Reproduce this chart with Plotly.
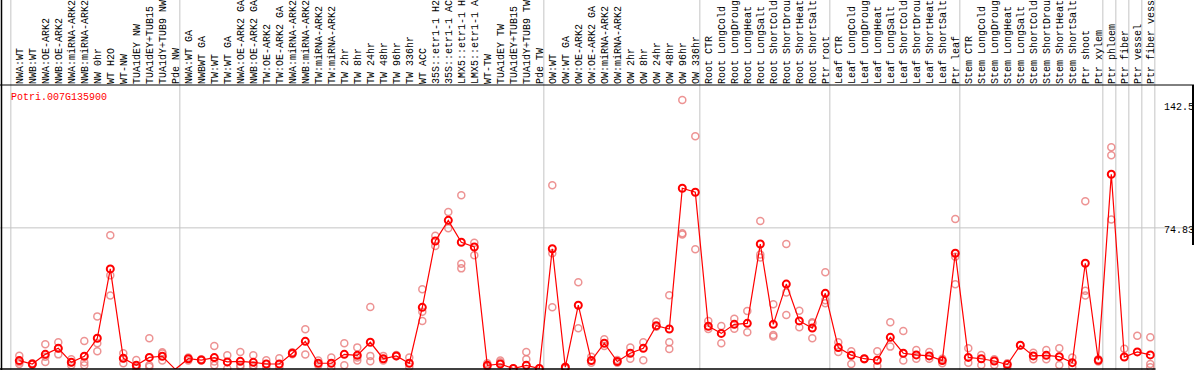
import plotly.graph_objects as go

gene_id = "Potri.007G135900"

samples = [
    "NWA:WT", "NWB:WT", "NWA:OE-ARK2", "NWB:OE-ARK2", "NWA:miRNA-ARK2", "NWB:miRNA-ARK2",
    "NW 0hr", "WT H2O", "WT-NW", "TUA1dEY NW", "TUA1dEY+TUB15 NW", "TUA1dY+TUB9 NW", "Pde NW",
    "NWA:WT GA", "NWBWT GA", "TW:WT", "TW:WT GA", "NWA:OE-ARK2 GA", "NWB:OE-ARK2 GA",
    "TW:OE-ARK2", "TW:OE-ARK2 GA", "NWA:miRNA-ARK2 GA", "NWB:miRNA-ARK2 GA", "TW:miRNA-ARK2",
    "TW:miRNA-ARK2 GA", "TW 2hr", "TW 8hr", "TW 24hr", "TW 48hr", "TW 96hr", "TW 336hr", "WT ACC",
    "35S::etr1-1 H2O", "35S::etr1-1 ACC", "LMX5::etr1-1 H2O", "LMX5::etr1-1 ACC", "WT-TW",
    "TUA1dEY TW", "TUA1dEY+TUB15 TW", "TUA1dY+TUB9 TW", "Pde TW",
    "OW:WT", "OW:WT GA", "OW:OE-ARK2", "OW:OE-ARK2 GA", "OW:miRNA-ARK2", "OW:miRNA-ARK2 GA",
    "OW 2hr", "OW 8hr", "OW 24hr", "OW 48hr", "OW 96hr", "OW 336hr",
    "Root CTR", "Root LongCold", "Root LongDrought", "Root LongHeat", "Root LongSalt",
    "Root ShortCold", "Root ShortDrought", "Root ShortHeat", "Root ShortSalt", "Ptr root",
    "Leaf CTR", "Leaf LongCold", "Leaf LongDrought", "Leaf LongHeat", "Leaf LongSalt",
    "Leaf ShortCold", "Leaf ShortDrought", "Leaf ShortHeat", "Leaf ShortSalt", "Ptr leaf",
    "Stem CTR", "Stem LongCold", "Stem LongDrought", "Stem LongHeat", "Stem LongSalt",
    "Stem ShortCold", "Stem ShortDrought", "Stem ShortHeat", "Stem ShortSalt",
    "Ptr shoot", "Ptr xylem", "Ptr phloem", "Ptr fiber", "Ptr vessel", "Ptr fiber vessel",
]

means = [
    4.6, 2.8, 7.9, 11.1, 3.7, 6.9, 16.4, 53.1, 5.8, 2.1, 6.3, 6.9, 0.0,
    5.6, 4.9, 6.2, 3.9, 4.2, 3.7, 2.8, 2.8, 8.5, 14.8, 3.2, 3.2, 7.9, 7.4, 14.3, 5.6, 7.1,
    3.2, 32.8, 67.9, 78.8, 67.2, 64.7, 2.1, 2.8, 0.4, 2.1, 0.4,
    63.8, 1.1, 33.9, 4.6, 13.8, 4.1, 8.5, 11.1, 23.1, 21.3, 95.8, 93.7,
    22.8, 19.0, 23.8, 24.3, 66.3, 23.8, 45.1, 25.6, 21.8, 40.2,
    11.5, 7.4, 5.6, 4.8, 16.9, 8.5, 7.6, 7.1, 4.6, 61.4,
    6.3, 5.6, 4.4, 2.5, 12.7, 7.1, 7.4, 6.7, 3.5, 56.1, 4.8, 103.2, 6.5, 9.2, 7.6,
]

replicates = [
    [7.2, 3.8, 2.8], [3.2, 2.5, 2.6], [13.2, 3.9, 6.6], [14.3, 7.9, 11.1], [5.3, 3.7, 2.2],
    [15.0, 3.7, 2.1], [28.0, 13.8, 9.5], [70.9, 49.7, 39.0], [8.5, 3.2, 5.8], [4.9, 0.4, 1.0],
    [16.4, 2.1, 1.4], [9.0, 8.4, 4.6], [0.0, 0.0, 0.0],
    [5.6, 4.6, 6.2], [5.3, 4.6], [12.3, 4.1, 2.1], [7.4, 0.4, 3.7], [9.2, 2.1, 1.4],
    [7.4, 1.4, 2.1], [4.8, 1.1], [5.8, 1.1], [9.0, 8.0], [21.2, 7.8], [4.6, 2.1], [6.3, 1.1],
    [13.8, 2.1], [11.6, 4.6, 6.2], [33.0, 7.1, 4.2], [7.1, 4.6], [7.6, 6.9], [6.2, 1.4],
    [42.3, 30.5, 25.6], [70.7, 65.3], [83.2, 74.6], [92.1, 55.9, 53.4], [67.0, 60.3],
    [3.2, 1.4], [4.6, 3.7], [0.4, 0.0], [9.2, 5.3], [0.4],
    [97.4, 61.4, 32.8], [1.4, 0.4], [46.0, 21.7], [6.7, 3.5], [15.9, 12.3], [4.9, 3.5],
    [11.5, 5.6], [14.3, 4.8], [25.2, 22.5], [39.2, 14.3, 10.8], [142.5, 72.0, 71.3],
    [123.3, 63.5],
    [25.6, 21.3], [22.9, 13.8], [26.8, 21.5], [30.9, 19.6], [78.5, 60.8, 59.1],
    [34.4, 18.2, 17.3], [66.3, 40.7, 28.7], [31.0, 22.2], [24.9, 16.4, 24.3], [51.3, 34.9, 36.6],
    [14.3, 9.2], [9.5, 2.8], [5.6, 5.3], [9.5, 1.8], [24.9, 12.0], [20.3, 4.6, 0.0],
    [10.2, 5.6], [9.2, 5.6], [5.6, 3.2], [79.5, 59.6, 45.0],
    [11.1, 3.5], [7.6, 2.3], [5.3, 2.3], [3.2, 1.1], [12.7], [8.8, 5.3], [10.2, 5.3],
    [11.1, 2.3], [6.3, 1.4], [88.9, 41.6, 39.0], [5.3, 4.1], [117.5, 113.2, 79.2],
    [10.9, 0.0], [17.8, 0.0], [16.9, 2.8, 1.1],
]

# first sample index of each tissue / experiment group (group separators)
group_starts = [0, 13, 41, 53, 63, 73, 84, 85, 86, 87, 88]

axis_labels = ["142.5", "74.83", "0"]
axis_values = [142.5, 74.83, 0]
reference_line = 74.83

W, H = 1194, 370
TOP, BOT = 85, 1
plot_h = H - TOP - BOT

xi = list(range(len(samples)))
rx, ry = [], []
for i, reps in enumerate(replicates):
    for v in reps:
        rx.append(i)
        ry.append(v)

fig = go.Figure()
fig.add_trace(go.Scatter(
    x=rx, y=ry, mode="markers", cliponaxis=False, hoverinfo="skip", showlegend=False,
    marker=dict(symbol="circle-open", size=7, color="rgba(232,120,120,0.8)",
                line=dict(width=1.5)),
))
fig.add_trace(go.Scatter(
    x=xi, y=means, mode="lines+markers", cliponaxis=False, showlegend=False,
    line=dict(color="#ff0000", width=1.2),
    marker=dict(symbol="circle-open", size=7, color="#ff0000", line=dict(width=2)),
))

shapes = []
ptop = 1 + TOP / plot_h
pbot = -BOT / plot_h
grey = "#c4c4c4"
for s in group_starts:
    shapes.append(dict(type="line", xref="x", yref="paper", x0=s - 0.65, x1=s - 0.65,
                       y0=pbot, y1=ptop, line=dict(color=grey, width=1), layer="below"))
shapes.append(dict(type="line", xref="paper", yref="y", x0=0, x1=1,
                   y0=reference_line, y1=reference_line, line=dict(color=grey, width=1),
                   layer="below"))
# frame lines
shapes.append(dict(type="line", xref="paper", yref="paper", x0=0, x1=1, y0=1, y1=1,
                   line=dict(color="black", width=1)))
shapes.append(dict(type="line", xref="paper", yref="paper", x0=0, x1=1155.5 / W, y0=0, y1=0,
                   line=dict(color="black", width=1.5)))
shapes.append(dict(type="line", xref="paper", yref="paper", x0=1.5 / W, x1=1.5 / W,
                   y0=pbot, y1=ptop, line=dict(color="black", width=1.5)))
shapes.append(dict(type="line", xref="paper", yref="paper", x0=1193 / W, x1=1193 / W,
                   y0=(H - BOT - 245) / plot_h, y1=1, line=dict(color="black", width=2)))

annotations = [dict(text=gene_id, xref="paper", yref="paper", x=9 / W,
                    y=(H - BOT - 97) / plot_h, xanchor="left", yanchor="middle",
                    showarrow=False, font=dict(family="Liberation Mono", size=10, color="#ff0000"))]
shifts = [-8, -3, 7]
for lab, val, sh in zip(axis_labels, axis_values, shifts):
    annotations.append(dict(text=lab, xref="paper", yref="y", x=1162 / W, y=val,
                            xanchor="left", yanchor="middle", yshift=sh, showarrow=False,
                            font=dict(family="Liberation Mono", size=10, color="black")))

x_left = -19.3 / 13
x_right = (W - 19.3) / 13
y_low = 0.3 / 1.89
y_high = (369.3 - TOP) / 1.89

fig.update_layout(
    width=W, height=H, margin=dict(l=0, r=0, t=TOP, b=BOT, autoexpand=False),
    paper_bgcolor="white", plot_bgcolor="white",
    xaxis=dict(range=[x_left, x_right], side="top", tickmode="array", tickvals=xi,
               ticktext=samples, tickangle=-90, ticks="", showgrid=False, zeroline=False,
               showline=False, automargin=False,
               tickfont=dict(family="Liberation Mono", size=10, color="black")),
    yaxis=dict(range=[y_low, y_high], showticklabels=False, showgrid=False, zeroline=False,
               showline=False, automargin=False),
    shapes=shapes, annotations=annotations, showlegend=False,
)

fig.write_html("out.html", config={"displayModeBar": False},
               post_script="document.body.style.margin='0';")
